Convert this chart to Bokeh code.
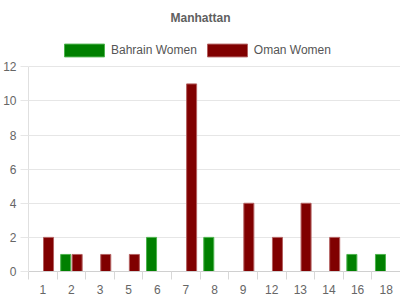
import math
from bokeh.plotting import figure
from bokeh.models import ColumnDataSource, FixedTicker, Legend, LegendItem, Label
from bokeh.transform import dodge
from bokeh.embed import file_html
from bokeh.resources import INLINE

categories = ["1", "2", "3", "5", "6", "7", "8", "9", "12", "13", "14", "16", "18"]
bahrain_women = [0, 1, 0, 0, 2, 0, 2, 0, 0, 0, 0, 1, 1]
oman_women = [2, 1, 1, 1, 0, 11, 0, 4, 2, 4, 2, 0, 0]
y_ticks = [0, 2, 4, 6, 8, 10, 12]

idx = list(range(len(categories)))
src = ColumnDataSource(dict(
    x=idx,
    bahrain=[v if v else math.nan for v in bahrain_women],
    oman=[v if v else math.nan for v in oman_women],
))

p = figure(width=400, height=300, output_backend="svg", toolbar_location=None,
           x_range=(-0.5, len(categories) - 0.5), y_range=(0, 15.89),
           min_border_left=28, min_border_right=0, min_border_top=0, min_border_bottom=29,
           background_fill_color="white", border_fill_color="white", outline_line_color=None)
p.title.visible = False

r1 = p.vbar(x=dodge("x", -0.2), top="bahrain", width=0.35, source=src,
            fill_color="#008000", line_color="#4db34d", line_width=1)
r2 = p.vbar(x=dodge("x", 0.2), top="oman", width=0.35, source=src,
            fill_color="#800000", line_color="#b36060", line_width=1)

p.xgrid.grid_line_color = None
p.ygrid.grid_line_color = "#e6e6e6"
p.ygrid.ticker = FixedTicker(ticks=y_ticks)

xa = p.xaxis[0]
xa.ticker = FixedTicker(ticks=idx, minor_ticks=[i - 0.5 for i in idx] + [len(idx) - 0.5])
xa.major_label_overrides = {i: c for i, c in zip(idx, categories)}
xa.major_tick_line_color = None
xa.major_tick_out = 8
xa.major_tick_in = 0
xa.minor_tick_line_color = "#d8d8d8"
xa.minor_tick_out = 8
xa.minor_tick_in = 0
xa.axis_line_color = "#d0d0d0"
xa.major_label_standoff = 5
xa.major_label_text_font = "Liberation Sans"
xa.major_label_text_font_size = "12px"
xa.major_label_text_color = "#666666"

ya = p.yaxis[0]
ya.ticker = FixedTicker(ticks=y_ticks)
ya.bounds = (y_ticks[0], y_ticks[-1])
ya.major_tick_line_color = "#e6e6e6"
ya.major_tick_out = 8
ya.major_tick_in = 0
ya.minor_tick_line_color = None
ya.axis_line_color = "#e0e0e0"
ya.major_label_standoff = 4
ya.major_label_text_font = "Liberation Sans"
ya.major_label_text_font_size = "12px"
ya.major_label_text_color = "#666666"

legend = Legend(items=[LegendItem(label="Bahrain Women", renderers=[r1]),
                       LegendItem(label="Oman Women", renderers=[r2])],
                orientation="horizontal", location=(31, 212.7),
                glyph_width=50, glyph_height=16, label_standoff=2, spacing=5,
                padding=0, margin=0, border_line_color=None, background_fill_alpha=0,
                label_text_font="Liberation Sans", label_text_font_size="12px",
                label_text_color="#555555")
p.add_layout(legend, "center")

p.add_layout(Label(text="Manhattan", x=172, y=253.5, x_units="screen", y_units="screen",
                   text_align="center", text_baseline="alphabetic",
                   text_font="Liberation Sans", text_font_size="12px",
                   text_font_style="bold", text_color="#606060"))

open("out.html", "w").write(file_html(p, INLINE))
